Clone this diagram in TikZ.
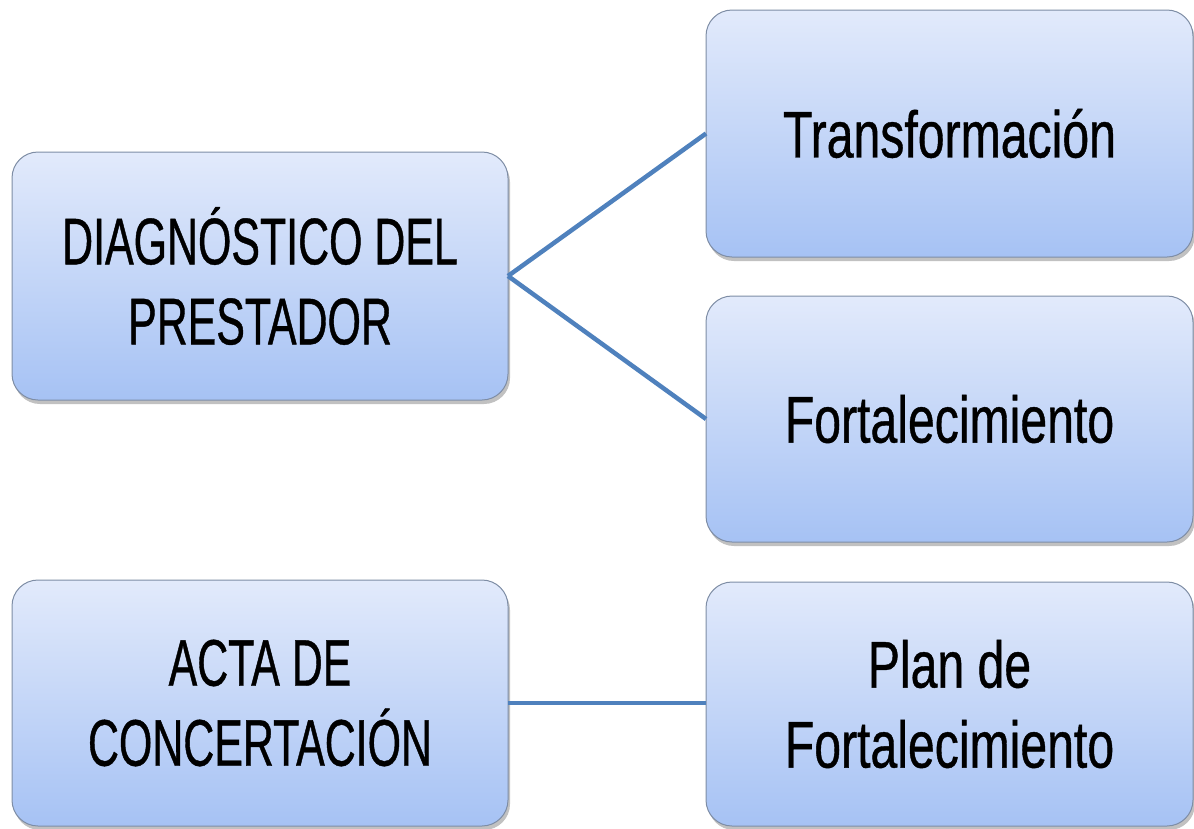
\documentclass[tikz,border=0pt]{standalone}
\usepackage{fontspec}
\newfontfamily\oswald[FakeStretch=0.73,FakeBold=0.6]{Liberation Sans}
\newfontfamily\oswaldcaps[FakeStretch=0.65,FakeBold=0.6]{Liberation Sans}
\usetikzlibrary{shadows}
\definecolor{boxtop}{HTML}{E2EAFB}
\definecolor{boxbot}{HTML}{A6C2F4}
\definecolor{boxline}{HTML}{7E8DA5}
\definecolor{conn}{HTML}{4F81BD}
\tikzset{
  card/.style={rectangle, rounded corners=26pt, draw=boxline, line width=1pt,
    top color=boxtop, bottom color=boxbot, inner sep=0pt, outer sep=0pt,
    align=center, font=\oswald\fontsize{66}{80}\selectfont,
    drop shadow={shadow xshift=2pt, shadow yshift=-4pt, opacity=0.35, fill=black!70}},
  capscard/.style={card, font=\oswaldcaps\fontsize{66}{80}\selectfont},
  link/.style={draw=conn, line width=4.5pt}
}
\begin{document}
\begin{tikzpicture}[x=1pt,y=-1pt]
\useasboundingbox (0,0) rectangle (1194,828);
\node[capscard, minimum width=496pt, minimum height=248pt] (diag) at (260,276) {DIAGNÓSTICO DEL\\PRESTADOR};
\node[card, minimum width=487pt, minimum height=247pt] (trans) at (949.5,133.5) {Transformación};
\node[card, minimum width=487pt, minimum height=246pt] (fort) at (949.5,419) {Fortalecimiento};
\node[capscard, minimum width=496pt, minimum height=246pt] (acta) at (260,703) {ACTA DE\\CONCERTACIÓN};
\node[card, minimum width=487pt, minimum height=244pt] (plan) at (949.5,704) {Plan de\\Fortalecimiento};
\draw[link] (diag.east) -- (trans.west);
\draw[link] (diag.east) -- (fort.west);
\draw[link] (acta.east) -- (plan.west |- acta.east);
\end{tikzpicture}
\end{document}
